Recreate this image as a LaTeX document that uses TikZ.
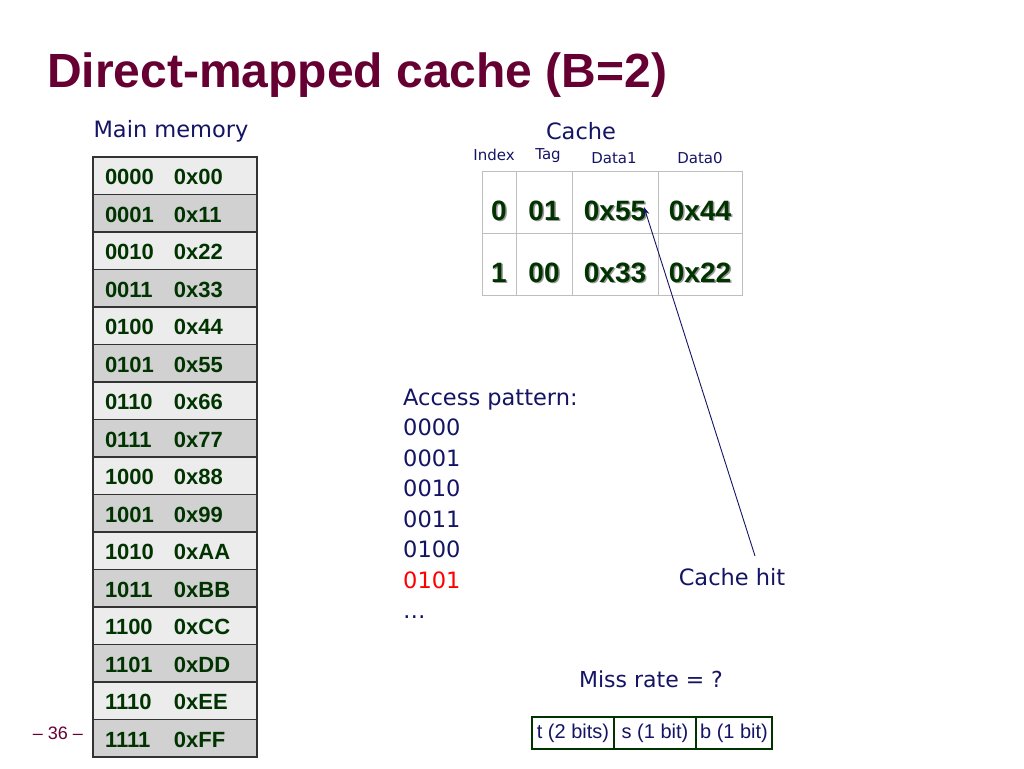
\documentclass[tikz,border=0pt]{standalone}
\usepackage{fontspec}
\usepackage{tikz}
\usetikzlibrary{arrows.meta}
\setmainfont{DejaVu Sans}
\newfontfamily\arialfont{Liberation Sans}
\definecolor{titlered}{RGB}{102,0,51}
\definecolor{navy}{RGB}{20,20,100}
\definecolor{memgreen}{RGB}{0,51,0}
\definecolor{rowlight}{RGB}{236,236,236}
\definecolor{rowdark}{RGB}{209,209,209}
\definecolor{gridgray}{RGB}{190,190,190}
\newcommand{\shtext}[1]{\makebox[0pt][l]{\hspace{1.5pt}\raisebox{-1.5pt}{\textcolor{black!40}{#1}}}#1}

\begin{document}
\begin{tikzpicture}[x=1pt, y=-1pt,
    memrow/.style={draw=black!80, line width=1.2pt, text=memgreen, font=\arialfont\bfseries\fontsize{22}{24}\selectfont,
        minimum height=37.5pt, text width=140pt, inner xsep=12pt, inner ysep=0pt, align=left, text height=18pt, text depth=0pt},
    cachecell/.style={draw=gridgray, line width=0.6pt, minimum height=62pt, inner sep=0pt, text=memgreen,
        font=\arialfont\bfseries\fontsize{28}{30}\selectfont, text height=40pt, text depth=4pt},
    smalllbl/.style={text=navy, font=\fontsize{15}{18}\selectfont, inner sep=0pt},
    navytxt/.style={text=navy, font=\fontsize{22.5}{30.5}\selectfont, inner sep=0pt},
    fieldbox/.style={draw=memgreen, line width=1.6pt, minimum height=32pt, inner sep=0pt, text=navy,
        font=\arialfont\fontsize{20}{22}\selectfont}]
    \useasboundingbox (0,0) rectangle (1024,768);
    % Title
    \node[anchor=base west, inner sep=0pt, text=titlered, font=\arialfont\bfseries\fontsize{48}{56}\selectfont] (title) at (47,87) {Direct-mapped cache (B=2)};
    \node[navytxt] (mainlbl) at (171,131) {Main memory};
    \node[navytxt] (cachelbl) at (581,131) {Cache};
    % Main memory
    \foreach \a/\v [count=\i from 0] in {0000/0x00,0001/0x11,0010/0x22,0011/0x33,0100/0x44,0101/0x55,0110/0x66,0111/0x77,
                                         1000/0x88,1001/0x99,1010/0xAA,1011/0xBB,1100/0xCC,1101/0xDD,1110/0xEE,1111/0xFF} {
        \pgfmathsetmacro{\rowy}{157+37.5*(\i+0.5)}
        \pgfmathparse{mod(\i,2)==0 ? "rowlight" : "rowdark"}
        \let\rowfill\pgfmathresult
        \node[memrow, fill=\rowfill] (m\i) at (175,\rowy) {\makebox[69pt][l]{\a}\v};
    }
    % Cache
    \node[smalllbl] (idxlbl) at (494,155) {Index};
    \node[smalllbl] (taglbl) at (548,156) {Tag};
    \node[smalllbl] (d1lbl) at (614,158) {Data1};
    \node[smalllbl] (d0lbl) at (700,158) {Data0};
    \foreach \r/\y/\ix/\tg/\da/\db in {0/202/0/01/0x55/0x44, 1/264/1/00/0x33/0x22} {
        \node[cachecell, minimum width=34pt] (ix\r) at (499,\y) {\shtext{\ix}};
        \node[cachecell, minimum width=56pt] (tg\r) at (544,\y) {\shtext{\tg}};
        \node[cachecell, minimum width=86pt] (da\r) at (615,\y) {\shtext{\da}};
        \node[cachecell, minimum width=84pt] (db\r) at (700,\y) {\shtext{\db}};
    }
    % Access pattern
    \node[navytxt, anchor=north west, align=left] (pattern) at (403,388.5) {Access pattern:\\0000\\0001\\0010\\0011\\0100\\\textcolor{red}{0101}\\…};
    \node[navytxt] (hit) at (732,577) {Cache hit};
    \node[navytxt, font=\fontsize{22}{30}\selectfont] (miss) at (651,679) {Miss rate = ?};
    % Connection
    \coordinate (hitstart) at (755,556);
    \coordinate (hitend) at (644,207);
    \draw[navy, line width=0.9pt, -{Stealth[length=8pt, width=6pt]}] (hitstart) -- (hitend);
    % Address fields
    \node[fieldbox, minimum width=82pt] (tfield) at (573,733) {t (2 bits)};
    \node[fieldbox, minimum width=82pt] (sfield) at (655,733) {s (1 bit)};
    \node[fieldbox, minimum width=76pt] (bfield) at (734,733) {b (1 bit)};
    % Slide number
    \node[text=titlered, font=\arialfont\fontsize{18}{20}\selectfont, inner sep=0pt] (pagenum) at (58,733) {– 36 –};
\end{tikzpicture}
\end{document}
